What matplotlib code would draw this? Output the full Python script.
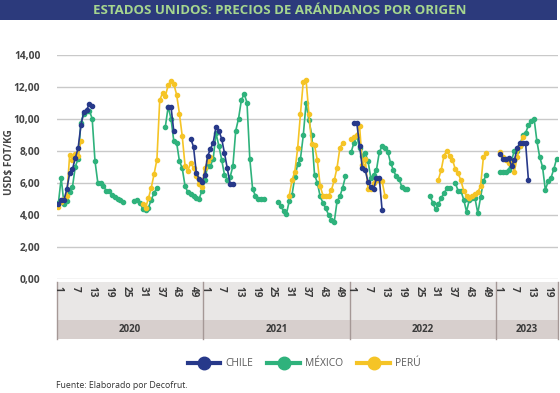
import numpy as np
import matplotlib
matplotlib.use("Agg")
import matplotlib.pyplot as plt
from matplotlib.patches import Rectangle
from matplotlib.lines import Line2D
import matplotlib.transforms as mtransforms

N = None

years = ["2020", "2021", "2022", "2023"]
weeks_per_year = [52, 52, 52, 22]
tick_weeks = [1, 7, 13, 19, 25, 31, 37, 43, 49]

chile_2020 = ([4.7, 4.95, 4.95, 5.6, 6.6, 6.85, 7.55, 8.15, 9.6, 10.4, 10.55, 10.9, 10.8]
              + [N] * 26 + [10.75, 10.75, 9.2] + [N] * 5
              + [8.75, 8.25, 6.6, 6.25, 6.05])
chile_2021 = [6.5, 7.65, 8.1, 8.5, 9.5, 9.25, 8.75, 7.85, 6.9, 5.95, 5.95] + [N] * 41
chile_2022 = [N, 9.75, 9.75, 8.3, 6.9, 6.8, 6.05, 5.75, 5.6, 6.3, 6.3, 4.3] + [N] * 40
chile_2023 = [N, 7.8, 7.5, 7.5, 7.55, 7.05, 7.4, 8.15, 8.5, 8.5, 8.45, 6.15] + [N] * 10

mexico_2020 = ([4.75, 6.3, 4.65, 4.85, 5.4, 5.75, 7.0, 7.5, 9.75, 10.3, 10.45, 10.5,
                10.0, 7.35, 6.0, 6.0, 5.8, 5.5, 5.5, 5.25, 5.1, 5.0, 4.9, 4.8]
               + [N] * 3 + [4.85, 4.95, 4.75, 4.35, 4.3, 4.45, 4.95, 5.35, 5.7]
               + [N] * 2 + [9.5, 10.75, 10.0, 8.6, 8.5, 7.35, 6.9, 5.8, 5.4, 5.3,
                            5.15, 5.05, 5.0, 5.5])
mexico_2021 = ([6.15, 7.05, 7.05, 7.5, 9.1, 8.3, 7.45, 6.5, 6.2, 6.35, 7.05, 9.25,
                10.0, 11.15, 11.55, 11.0, 7.5, 5.6, 5.2, 5.0, 5.0, 5.0]
               + [N] * 4 + [4.8, 4.55, 4.25, 4.05, 4.85, 5.25, 6.35, 7.15, 7.5, 8.95,
                            11.0, 9.9, 9.0, 6.5, 6.0, 5.15, 4.75, 4.4, 4.0, 3.7, 3.55,
                            4.85, 5.15, 5.7, 6.4] + [N])
mexico_2022 = ([7.9, 8.5, 8.9, 8.2, 7.65, 7.85, 7.35, 6.3, 6.5, 6.8, 7.9, 8.3, 8.15,
                7.95, 7.25, 6.8, 6.4, 6.25, 5.75, 5.6, 5.6]
               + [N] * 7 + [5.2, 4.75, 4.35, 4.65, 5.05, 5.35, 5.65, 5.65]
               + [N] + [6.0, 5.5, 5.5, 4.95, 4.2, 4.95, 5.05, 5.05, 4.1, 5.1, 6.1, 6.5]
               + [N] * 3)
mexico_2023 = [N, 6.7, 6.65, 6.65, 6.8, 7.4, 8.0, 8.0, 8.3, 9.0, 9.1, 9.6, 9.85, 10.0,
               8.6, 7.6, 7.0, 5.55, 6.1, 6.3, 6.85, 7.5]

peru_2020 = ([4.5, 4.8, 5.0, 5.15, 7.75, 7.45, 7.8, 7.65, 8.6] + [N] * 21
             + [4.65, 4.45, 5.05, 5.7, 6.55, 7.45, 11.15, 11.6, 11.4, 12.1, 12.35,
                12.15, 11.5, 10.3, 8.9, 7.05, 6.75, 7.25, 6.95, 6.4, 5.9, 5.75])
peru_2021 = ([6.9, 7.35, 7.6] + [N] * 27
             + [5.2, 6.15, 6.7, 8.15, 10.3, 12.3, 12.4, 10.3, 8.4, 8.35, 7.4, 5.8,
                5.2, 5.2, 5.2, 5.55, 6.15, 6.95, 8.15, 8.5] + [N] * 2)
peru_2022 = ([8.75, 8.85, 8.95, 9.55, 7.1, 7.5, 5.6, 5.6, 6.0, 6.2, 6.2, 6.1, 5.2]
             + [N] * 18
             + [6.2, 6.8, 7.7, 8.0, 7.7, 7.45, 6.85, 6.6, 6.15, 5.5, 5.2, 5.05, 5.2,
                5.3, 5.4, 5.8, 7.6, 7.85] + [N] * 3)
peru_2023 = [N, 7.95, 7.6, 7.4, 7.25, 7.25, 6.7, 7.6, 8.3, 8.85] + [N] * 12

series = [
    ("MÉXICO", "#2fb27c", [mexico_2020, mexico_2021, mexico_2022, mexico_2023]),
    ("PERÚ", "#f5c426", [peru_2020, peru_2021, peru_2022, peru_2023]),
    ("CHILE", "#27398a", [chile_2020, chile_2021, chile_2022, chile_2023]),
]

plt.rcParams['font.family'] = ['Open Sans', 'DejaVu Sans']

W, H = 560, 393
fig = plt.figure(figsize=(W / 100, H / 100), dpi=100)

def fx(px):
    return px / W

def fy(py):
    return 1 - py / H

left, right, top, bottom = 57, 558, 54.5, 279
ax = fig.add_axes([fx(left), fy(bottom), fx(right - left), (bottom - top) / H])

total = sum(weeks_per_year)
x = np.arange(total)

for name, color, parts in series:
    vals = []
    for p in parts:
        vals.extend(p)
    y = np.array([np.nan if v is None else v for v in vals], dtype=float)
    ax.plot(x, y, color=color, lw=1.2, marker='o', ms=3.0, mec=color, mfc=color,
            zorder=3)

ax.set_xlim(-0.5, total - 0.5)
ax.set_ylim(0, 14)
ax.set_yticks(np.arange(0, 15, 2))
ax.set_yticklabels([f"{v:.2f}".replace('.', ',') for v in np.arange(0, 15, 2)],
                   fontsize=7.4, fontweight='bold', color='#444444')
ax.tick_params(axis='y', length=0, pad=12)
ax.set_xticks([])
ax.grid(axis='y', color='#c9c9c9', lw=1.0)
ax.set_axisbelow(True)
for s in ax.spines.values():
    s.set_visible(False)

# category band
trans = mtransforms.blended_transform_factory(ax.transData, fig.transFigure)
band_top, band_mid, band_bot = 281.5, 320, 339
ax.add_patch(Rectangle((-0.5, fy(band_mid)), total, (band_mid - band_top) / H,
                       transform=trans, facecolor='#e9e7e6', edgecolor='none',
                       clip_on=False, zorder=1))
ax.add_patch(Rectangle((-0.5, fy(band_bot)), total, (band_bot - band_mid) / H,
                       transform=trans, facecolor='#d7cfcd', edgecolor='none',
                       clip_on=False, zorder=1))
start = 0
bounds = [-0.5]
for yr, n in zip(years, weeks_per_year):
    for w in tick_weeks:
        if w <= n:
            ax.text(start + w - 1, fy(band_top + 4), str(w), transform=trans,
                    rotation=-90, ha='center', va='top', fontsize=7.2,
                    fontweight='bold', color='#3a3a3a', clip_on=False)
    ax.text(start + n / 2 - 0.5, fy((band_mid + band_bot) / 2), yr, transform=trans,
            ha='center', va='center', fontsize=7, fontweight='bold',
            color='#3a3a3a', clip_on=False)
    start += n
    bounds.append(start - 0.5)
for b in bounds:
    ax.add_line(Line2D([b, b], [fy(band_top), fy(band_bot)], transform=trans,
                       color='#a59896', lw=1.0, clip_on=False, zorder=2))

# title band
fig.add_artist(Rectangle((0, fy(19.5)), fx(557), 19.5 / H, transform=fig.transFigure,
                         facecolor='#2c3a7c', edgecolor='none'))
fig.text(0.5, fy(10), "ESTADOS UNIDOS: PRECIOS DE ARÁNDANOS POR ORIGEN",
         ha='center', va='center', fontsize=9.5, fontweight='bold', color='#a6d68f')

fig.text(fx(10), fy(162), "USD$ FOT/KG", rotation=90, ha='center', va='center',
         fontsize=7.2, fontweight='bold', color='#444444')

handles = []
for name in ["CHILE", "MÉXICO", "PERÚ"]:
    col = [c for nm, c, _ in series if nm == name][0]
    handles.append(Line2D([], [], color=col, lw=3, marker='o', ms=9, label=name))
fig.legend(handles=handles, loc='center', bbox_to_anchor=(fx(304), fy(364)),
           ncol=3, frameon=False, fontsize=7.4, handlelength=3.2, handletextpad=0.45,
           columnspacing=1.4, labelcolor='#5a5a5a')

fig.text(fx(56), fy(386), "Fuente: Elaborado por Decofrut.", ha='left', va='center',
         fontsize=6.3, color='#333333')

fig.savefig("out.png", dpi=100)
